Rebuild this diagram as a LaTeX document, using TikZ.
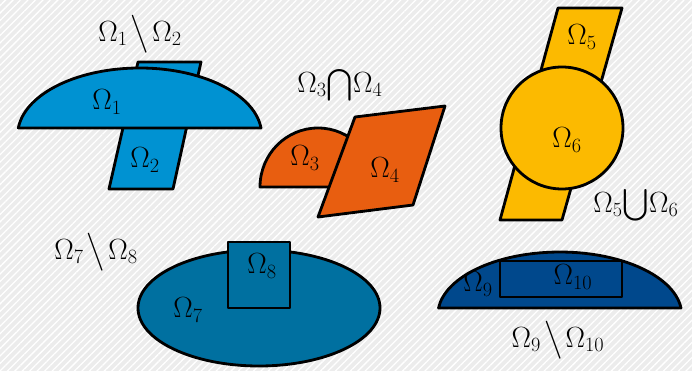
\documentclass[tikz,border=0pt]{standalone}
\usepackage{amsmath}
\usepackage{amssymb}
\usepackage{xcolor}
\definecolor{bggray}{RGB}{236,236,236}
\definecolor{skyblue}{RGB}{0,146,210}
\definecolor{burnt}{RGB}{232,94,16}
\definecolor{amber}{RGB}{252,186,0}
\definecolor{teal}{RGB}{0,112,160}
\definecolor{navy}{RGB}{0,72,140}
\usepackage{tikz}
\usetikzlibrary{patterns.meta}
\newcommand{\smin}{\mkern2mu\big\backslash\mkern2mu}

\begin{document}
\begin{tikzpicture}[x=0.03cm, y=-0.03cm,
  region/.style={draw=black, line width=2.4pt, line join=round},
  lbl/.style={font=\fontsize{27}{30}\selectfont, inner sep=0pt}]
  \useasboundingbox (0,0) rectangle (692,371);
  % Background hatching
  \fill[bggray] (0,0) rectangle (692,371);
  \fill[pattern={Lines[angle=45, distance=4.5pt, line width=1.1pt]}, pattern color=white]
       (0,0) rectangle (692,371);

  % --- Set difference: cap minus strip ---
  \filldraw[region, fill=skyblue] (138,62) -- (201,62) -- (173,189) -- (109,189) -- cycle;
  \filldraw[region, fill=skyblue] (261,128) arc[start angle=-6, end angle=-174, x radius=122, y radius=67] -- cycle;
  \node[lbl] (omA) at (107,102) {$\Omega_1$};
  \node[lbl] (omB) at (145,160) {$\Omega_2$};
  \node[lbl] (diffAB) at (140,34) {$\Omega_1\smin\Omega_2$};

  % --- Intersection: half disk and parallelogram ---
  \filldraw[region, fill=burnt] (377,187) -- (260,187) arc[start angle=180, end angle=360, x radius=58, y radius=59] -- cycle;
  \filldraw[region, fill=burnt] (355,117) -- (445,106) -- (413,205) -- (318,217) -- cycle;
  \node[lbl] (omC) at (305,158) {$\Omega_3$};
  \node[lbl] (omD) at (385,170) {$\Omega_4$};
  \node[lbl] (capCD) at (340,85) {$\Omega_3{\bigcap}\Omega_4$};

  % --- Union: strip and disk ---
  \filldraw[region, fill=amber] (558,8) -- (622,8) -- (562,220) -- (500,220) -- cycle;
  \filldraw[region, fill=amber] (562,128) circle[radius=61];
  \node[lbl] (omE) at (582,37) {$\Omega_5$};
  \node[lbl] (omF) at (567,140) {$\Omega_6$};
  \node[lbl] (cupEF) at (636,205) {$\Omega_5{\bigcup}\Omega_6$};

  % --- Set difference: ellipse minus square ---
  \filldraw[region, fill=teal] (259,308) ellipse[x radius=121, y radius=58];
  \filldraw[region, fill=teal] (228,242) rectangle (290,308);
  \node[lbl] (omG) at (188,310) {$\Omega_7$};
  \node[lbl] (omH) at (262,266) {$\Omega_8$};
  \node[lbl] (diffGH) at (96,252) {$\Omega_7\smin\Omega_8$};

  % --- Set difference: cap minus bar ---
  \filldraw[region, fill=navy] (681,308) arc[start angle=-6.4, end angle=-173.6, x radius=122, y radius=63] -- cycle;
  \filldraw[region, fill=navy] (500,261) rectangle (622,297);
  \node[lbl] (omI) at (478,284) {$\Omega_9$};
  \node[lbl] (omJ) at (573,277) {$\Omega_{10}$};
  \node[lbl] (diffIJ) at (558,340) {$\Omega_9\smin\Omega_{10}$};
\end{tikzpicture}
\end{document}
